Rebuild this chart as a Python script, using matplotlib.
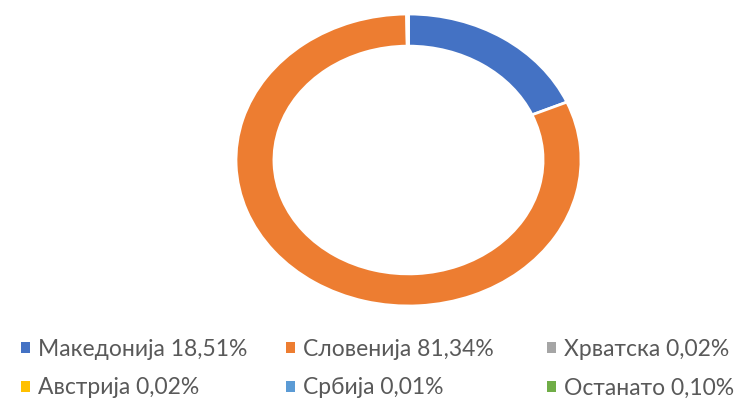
import matplotlib.pyplot as plt
from matplotlib.patches import Patch

# data
countries = ["Македонија", "Словенија", "Хрватска", "Австрија", "Србија", "Останато"]
shares = [18.51, 81.34, 0.02, 0.02, 0.01, 0.10]
colors = ["#4472C4", "#ED7D31", "#A5A5A5", "#FFC000", "#5B9BD5", "#70AD47"]

plt.rcParams['font.family'] = ['Lato', 'DejaVu Sans']

fig = plt.figure(figsize=(7.37, 4.04), dpi=100)
ax = fig.add_axes([236/737, 98/404, 345/737, 292/404])

ax.pie(shares, colors=colors, startangle=90, counterclock=False, radius=1,
       wedgeprops=dict(width=0.22, edgecolor="white", linewidth=2))
ax.set_aspect("auto")
ax.set_xlim(-1.0, 1.0)
ax.set_ylim(-1.0, 1.0)
ax.axis("off")

# legend, laid out like the Excel one: 3 equal columns, 2 rows
col_x = [21/737, 286/737, 547/737]
row_y = [1 - 349/404, 1 - 388/404]
for i, (name, val, c) in enumerate(zip(countries, shares, colors)):
    label = f"{name} {val:.2f}%".replace(".", ",")
    fig.legend(handles=[Patch(facecolor=c, edgecolor="none")], labels=[label],
               loc="center left", bbox_to_anchor=(col_x[i % 3], row_y[i // 3]),
               frameon=False, fontsize=16.5, labelcolor="#595959",
               handlelength=0.38, handleheight=0.38, handletextpad=0.35,
               borderpad=0, borderaxespad=0)

fig.savefig("out.png", dpi=100, facecolor="white")
